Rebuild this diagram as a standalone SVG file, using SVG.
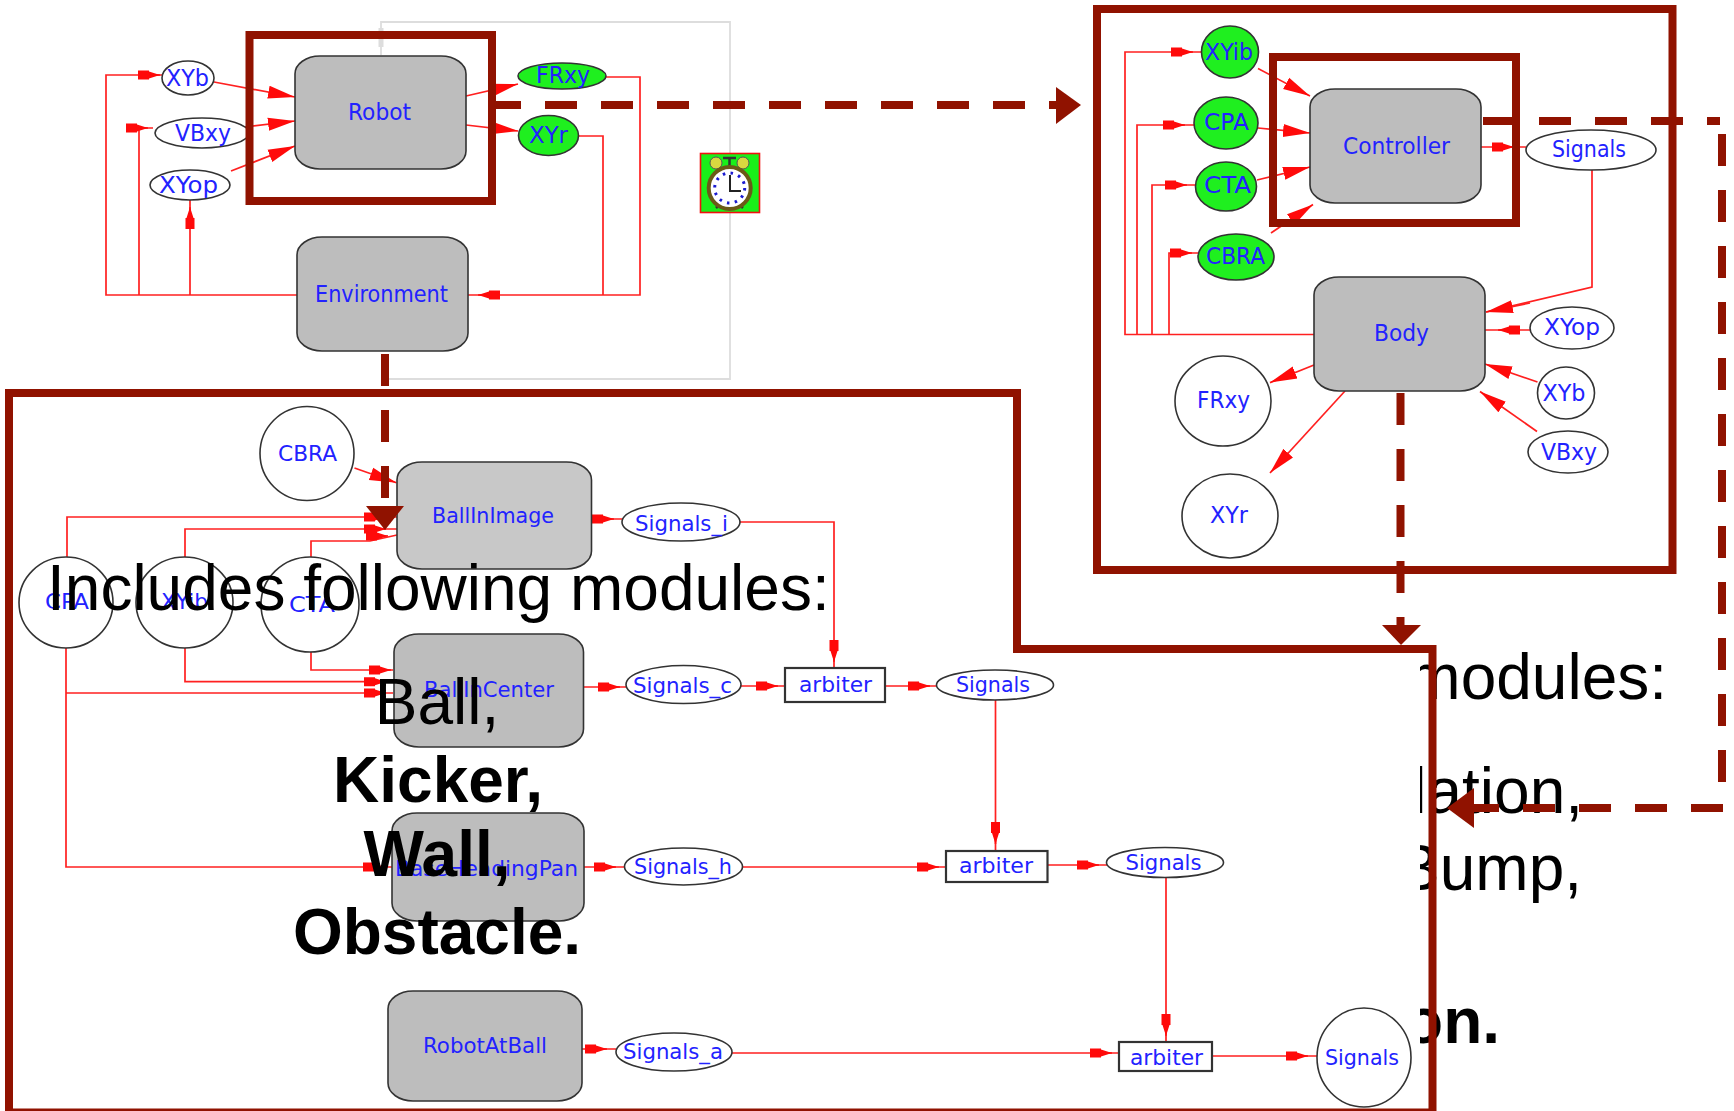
<svg xmlns="http://www.w3.org/2000/svg" width="1734" height="1111" viewBox="0 0 1734 1111">
<style>
text{font-family:"DejaVu Sans",sans-serif}
.l{font-size:23px;fill:#2222ff}
.s{font-size:22px;fill:#2222ff}
.b{fill:#bdbdbd;stroke:#333;stroke-width:1.6}
.e{fill:#fff;stroke:#333;stroke-width:1.6}
.g{fill:#1fef1f;stroke:#333;stroke-width:1.6}
.r{fill:#fff;stroke:#333;stroke-width:2.2}
.w{fill:none;stroke:#ff2020;stroke-width:1.7}
.a{fill:none;stroke:#ff2020;stroke-width:1.7;marker-end:url(#ma)}
.t{fill:none;stroke:#ff2020;stroke-width:1.7;marker-end:url(#mt)}
.f{fill:none;stroke:#901200;stroke-width:8}
.d{fill:none;stroke:#901200;stroke-width:8;stroke-dasharray:32 24}
.h{fill:#901200}
.big{font-family:"Liberation Sans",Arial,sans-serif;font-size:64px;fill:#000}
.bb{font-weight:700}
.m{text-anchor:middle}
.n{text-anchor:end}
</style>
<defs>
<marker id="ma" markerUnits="userSpaceOnUse" markerWidth="24" markerHeight="14" refX="22" refY="7" orient="auto"><path d="M0,2.5H11V3.5L22,7L11,10.5V11.5H0Z" fill="#ff0a0a"/></marker>
<marker id="mt" markerUnits="userSpaceOnUse" markerWidth="28" markerHeight="16" refX="27" refY="8" orient="auto"><path d="M0,1.500L27,8L0,14.500Z" fill="#ff0a0a"/></marker>
</defs>

<g id="hidden-text">
<text class="big n" x="1667" y="699">modules:</text>
<text class="big n" x="1583" y="813">lation,</text>
<text class="big n" x="1582" y="890">Bump,</text>
<text class="big bb n" x="1500" y="1043">on.</text>
</g>
<path id="sheet" d="M13,397H1017V649H1420V1111H13Z" fill="#fff"/>

<g id="connectors">
<!-- top left -->
<path d="M381,55V22H730V379H381" fill="none" stroke="#ddd" stroke-width="1.8"/>
<path d="M381,47V28" fill="none" stroke="#ddd" stroke-width="5"/>
<path class="w" d="M297,295H106V75H162M139,295V128H153M190,295V200M468,295H640V77H606M603,295V136H579"/>
<path class="a" d="M155,75H160"/><path class="a" d="M145,128H148"/>
<path class="a" d="M190,225V207"/><path class="a" d="M500,295H478"/>
<path class="t" d="M214,82L295,97"/><path class="t" d="M245,127L295,121"/><path class="t" d="M231,171L295,146"/>
<path class="t" d="M466,96L518,84"/><path class="t" d="M466,125L518,131"/>
<!-- top right -->
<path class="w" d="M1314,334.500H1125V52H1201M1137,334.500V125H1194M1152,334.500V185H1195M1169,334.500V253H1198M1481,147H1526M1592,170V287L1486,312M1530,330H1485"/>
<path class="a" d="M1185,52H1193"/><path class="a" d="M1178,125H1185"/><path class="a" d="M1180,185H1187"/><path class="a" d="M1185,253H1192"/>
<path class="a" d="M1505,147H1514"/><path class="a" d="M1512,330H1498"/>
<path class="t" d="M1258,68.500L1310,96"/><path class="t" d="M1258,128L1310,133"/><path class="t" d="M1257,180L1310,167"/><path class="t" d="M1271,233L1313,204.500"/>
<path class="t" d="M1530,303L1486,312"/><path class="t" d="M1537.500,382L1485,364"/><path class="t" d="M1537,431.500L1480,391.500"/>
<path class="t" d="M1314,365L1270,382.600"/><path class="t" d="M1345,391L1270,473"/>
<!-- bottom -->
<path class="w" d="M67,557V517H397M185,557V529H397M311,557V541H370L397,535M311,652V670H393M185,648V681.700H393M66,648V867H392M66,693H393"/>
<path class="w" d="M591.500,519H623M740,522H834V668M584,687H626M741,686H785M885,686H937M995.500,700V851M742,867H946M1047.500,865H1107M1166,877V1042M732,1053H1119M1212,1056H1317M584,867H624M582,1049H616"/>
<path class="a" d="M380,517H386"/><path class="a" d="M380,529H386"/><path class="a" d="M383,536H388"/>
<path class="a" d="M385,670H391"/><path class="a" d="M380,681.700H386"/><path class="a" d="M380,693H386"/><path class="a" d="M380,867H385"/>
<path class="t" d="M354.500,468L396.500,482.700"/>
<path class="a" d="M608,519H614"/><path class="a" d="M612,687H620"/><path class="a" d="M608,867H616"/><path class="a" d="M600,1049H607"/>
<path class="a" d="M834,650V662"/><path class="a" d="M770,686H778"/><path class="a" d="M922,686H930"/><path class="a" d="M995.500,835V844"/>
<path class="a" d="M930,867H939"/><path class="a" d="M1090,865H1099"/><path class="a" d="M1166,1025V1036"/><path class="a" d="M1105,1053H1112"/><path class="a" d="M1300,1056H1308"/>
</g>

<g id="robot"><rect class="b" x="295" y="56" width="171" height="113" rx="25" ry="18"/><text class="l" x="348" y="120" textLength="63" lengthAdjust="spacingAndGlyphs">Robot</text></g>
<g id="environment"><rect class="b" x="297" y="237" width="171" height="114" rx="25" ry="18"/><text class="l" x="315" y="302" textLength="133" lengthAdjust="spacingAndGlyphs">Environment</text></g>
<g id="xyb-top"><ellipse class="e" cx="188" cy="78" rx="26" ry="17"/><text class="l" x="166" y="86" textLength="43" lengthAdjust="spacingAndGlyphs">XYb</text></g>
<g id="vbxy-top"><ellipse class="e" cx="202" cy="133" rx="47" ry="15"/><text class="l" x="175" y="141" textLength="56" lengthAdjust="spacingAndGlyphs">VBxy</text></g>
<g id="xyop-top"><ellipse class="e" cx="190" cy="185" rx="40" ry="15"/><text class="l" x="159" y="193" textLength="59" lengthAdjust="spacingAndGlyphs">XYop</text></g>
<g id="frxy-top"><ellipse class="g" cx="562" cy="76" rx="44" ry="13"/><text class="l" x="536" y="83" textLength="54" lengthAdjust="spacingAndGlyphs">FRxy</text></g>
<g id="xyr-top"><ellipse class="g" cx="548.500" cy="135.500" rx="30" ry="20"/><text class="l" x="529" y="143" textLength="39" lengthAdjust="spacingAndGlyphs">XYr</text></g>
<g id="clock">
<rect x="700.500" y="153.500" width="59" height="59" fill="#19f019" stroke="#f01010" stroke-width="1.600"/>
<circle cx="716" cy="163" r="6" fill="#d8d840" stroke="#555"/><circle cx="743" cy="163" r="6" fill="#d8d840" stroke="#555"/>
<path d="M729.500,157V166M723,158H736M716,208L720,204M743,208L739,204" stroke="#333" stroke-width="2.500" fill="none"/>
<ellipse cx="729.700" cy="188" rx="21" ry="21" fill="#fff" stroke="#6b5a18" stroke-width="4"/>
<circle cx="729.700" cy="188" r="15" fill="none" stroke="#1a1ad0" stroke-width="3" stroke-dasharray="2.500 5.400"/>
<path d="M730,175V191H741" stroke="#222" stroke-width="2" fill="none"/>
</g>

<g id="controller"><rect class="b" x="1310" y="89" width="171" height="114" rx="25" ry="18"/><text class="l" x="1343" y="154" textLength="107" lengthAdjust="spacingAndGlyphs">Controller</text></g>
<g id="body"><rect class="b" x="1314" y="277" width="171" height="114" rx="25" ry="18"/><text class="l" x="1374" y="341" textLength="55" lengthAdjust="spacingAndGlyphs">Body</text></g>
<g id="xyib-right"><ellipse class="g" cx="1230" cy="52" rx="28.500" ry="26"/><text class="l" x="1205" y="60" textLength="48" lengthAdjust="spacingAndGlyphs">XYib</text></g>
<g id="cpa-right"><ellipse class="g" cx="1226" cy="123" rx="32" ry="26"/><text class="l" x="1204" y="130" textLength="45" lengthAdjust="spacingAndGlyphs">CPA</text></g>
<g id="cta-right"><ellipse class="g" cx="1226" cy="186.500" rx="30.500" ry="24.500"/><text class="l" x="1204" y="193" textLength="47" lengthAdjust="spacingAndGlyphs">CTA</text></g>
<g id="cbra-right"><ellipse class="g" cx="1236" cy="257" rx="38" ry="23"/><text class="l" x="1206" y="264" textLength="59" lengthAdjust="spacingAndGlyphs">CBRA</text></g>
<g id="signals-right"><ellipse class="e" cx="1591" cy="150" rx="65" ry="20"/><text class="l" x="1552" y="157" textLength="74" lengthAdjust="spacingAndGlyphs">Signals</text></g>
<g id="xyop-right"><ellipse class="e" cx="1572" cy="328" rx="42" ry="21"/><text class="l" x="1544" y="335" textLength="56" lengthAdjust="spacingAndGlyphs">XYop</text></g>
<g id="xyb-right"><ellipse class="e" cx="1566" cy="393" rx="28.500" ry="26"/><text class="l" x="1542.500" y="401" textLength="43" lengthAdjust="spacingAndGlyphs">XYb</text></g>
<g id="vbxy-right"><ellipse class="e" cx="1568" cy="452" rx="40" ry="21"/><text class="l" x="1541" y="460" textLength="56" lengthAdjust="spacingAndGlyphs">VBxy</text></g>
<g id="frxy-right"><ellipse class="e" cx="1223" cy="401" rx="48" ry="45"/><text class="l" x="1197" y="408" textLength="53" lengthAdjust="spacingAndGlyphs">FRxy</text></g>
<g id="xyr-right"><ellipse class="e" cx="1230" cy="516" rx="48" ry="42"/><text class="l" x="1210" y="523" textLength="38" lengthAdjust="spacingAndGlyphs">XYr</text></g>

<g id="cbra-bottom"><ellipse class="e" cx="307" cy="453.500" rx="47" ry="47"/><text class="s" x="278" y="461" textLength="59" lengthAdjust="spacingAndGlyphs">CBRA</text></g>
<g id="ballinimage"><rect class="b" style="fill:#c8c8c8" x="397" y="462" width="194.500" height="107" rx="25" ry="18"/><text class="s" x="432" y="523" textLength="122" lengthAdjust="spacingAndGlyphs">BallInImage</text></g>
<g id="signals-i"><ellipse class="e" cx="681" cy="522" rx="59" ry="19"/><text class="s" x="635" y="531" textLength="93" lengthAdjust="spacingAndGlyphs">Signals_i</text></g>
<g id="cpa-bottom"><ellipse class="e" cx="66" cy="602.500" rx="47" ry="45.500"/><text class="s" x="45" y="609" textLength="44" lengthAdjust="spacingAndGlyphs">CPA</text></g>
<g id="xyib-bottom"><ellipse class="e" cx="184.500" cy="602.500" rx="48.500" ry="45.500"/><text class="s" x="161" y="609" textLength="47" lengthAdjust="spacingAndGlyphs">XYib</text></g>
<g id="cta-bottom"><ellipse class="e" cx="310" cy="604.500" rx="49" ry="47.500"/><text class="s" x="289" y="612" textLength="46" lengthAdjust="spacingAndGlyphs">CTA</text></g>
<g id="ballincenter"><rect class="b" x="394" y="634" width="189.500" height="113" rx="25" ry="18"/><text class="s" x="424" y="697" textLength="130" lengthAdjust="spacingAndGlyphs">BallInCenter</text></g>
<g id="signals-c"><ellipse class="e" cx="683.500" cy="684.500" rx="57.500" ry="19"/><text class="s" x="633" y="693" textLength="99" lengthAdjust="spacingAndGlyphs">Signals_c</text></g>
<g id="baseheadingpan"><rect class="b" x="392" y="813" width="192" height="108" rx="25" ry="18"/><text class="s" x="395" y="876" textLength="183" lengthAdjust="spacingAndGlyphs">BaseHeadingPan</text></g>
<g id="signals-h"><ellipse class="e" cx="683.500" cy="866.500" rx="59" ry="18.500"/><text class="s" x="634" y="874" textLength="98" lengthAdjust="spacingAndGlyphs">Signals_h</text></g>
<g id="robotatball"><rect class="b" x="388" y="991" width="194" height="110" rx="25" ry="18"/><text class="s" x="423" y="1053" textLength="124" lengthAdjust="spacingAndGlyphs">RobotAtBall</text></g>
<g id="signals-a"><ellipse class="e" cx="674" cy="1052" rx="58" ry="19"/><text class="s" x="623" y="1059" textLength="100" lengthAdjust="spacingAndGlyphs">Signals_a</text></g>
<g id="arbiter-1"><rect class="r" x="785" y="668" width="100" height="34"/><text class="s" x="799" y="692" textLength="73" lengthAdjust="spacingAndGlyphs">arbiter</text></g>
<g id="signals-1"><ellipse class="e" cx="995" cy="685" rx="58.500" ry="15"/><text class="s" x="956" y="692" textLength="74" lengthAdjust="spacingAndGlyphs">Signals</text></g>
<g id="arbiter-2"><rect class="r" x="946" y="851" width="101.500" height="31"/><text class="s" x="959" y="873" textLength="74" lengthAdjust="spacingAndGlyphs">arbiter</text></g>
<g id="signals-2"><ellipse class="e" cx="1165" cy="862.500" rx="58.500" ry="15"/><text class="s" x="1125.500" y="870" textLength="76" lengthAdjust="spacingAndGlyphs">Signals</text></g>
<g id="arbiter-3"><rect class="r" x="1119" y="1042" width="93" height="29"/><text class="s" x="1130" y="1065" textLength="73" lengthAdjust="spacingAndGlyphs">arbiter</text></g>
<g id="signals-out"><ellipse class="e" cx="1364" cy="1057.500" rx="47" ry="49.500"/><text class="s" x="1325" y="1065" textLength="74" lengthAdjust="spacingAndGlyphs">Signals</text></g>

<g id="highlight-frames">
<rect class="f" x="249.500" y="35" width="242.500" height="166"/>
<rect class="f" x="1097" y="9" width="575.500" height="561"/>
<rect class="f" x="1273" y="57" width="243" height="166"/>
<path class="f" d="M9,393H1017V649H1432.500V1112.500H9Z"/>
</g>

<g id="caption">
<text class="big" x="47" y="610">Includes following modules:</text>
<text class="big m" x="437" y="724">Ball,</text>
<text class="big bb m" x="438" y="802">Kicker,</text>
<text class="big bb m" x="437" y="876">Wall,</text>
<text class="big bb m" x="437" y="954">Obstacle.</text>
</g>

<g id="zoom-arrows">
<path class="d" d="M489,105H1056"/><path class="h" d="M1056,87L1081,105L1056,124Z"/>
<path class="d" d="M385,354V506"/><path class="h" d="M366,506H404L385,530Z"/>
<path class="d" d="M1400.500,393V625"/><path class="h" d="M1382,625H1421L1401,645Z"/>
<path class="d" d="M1483,121H1720"/>
<path class="d" d="M1722,134V782"/>
<path class="d" d="M1724,808H1474" style="stroke-dashoffset:-1"/><path class="h" d="M1474,788L1447,808L1474,828Z"/>
</g>
</svg>
